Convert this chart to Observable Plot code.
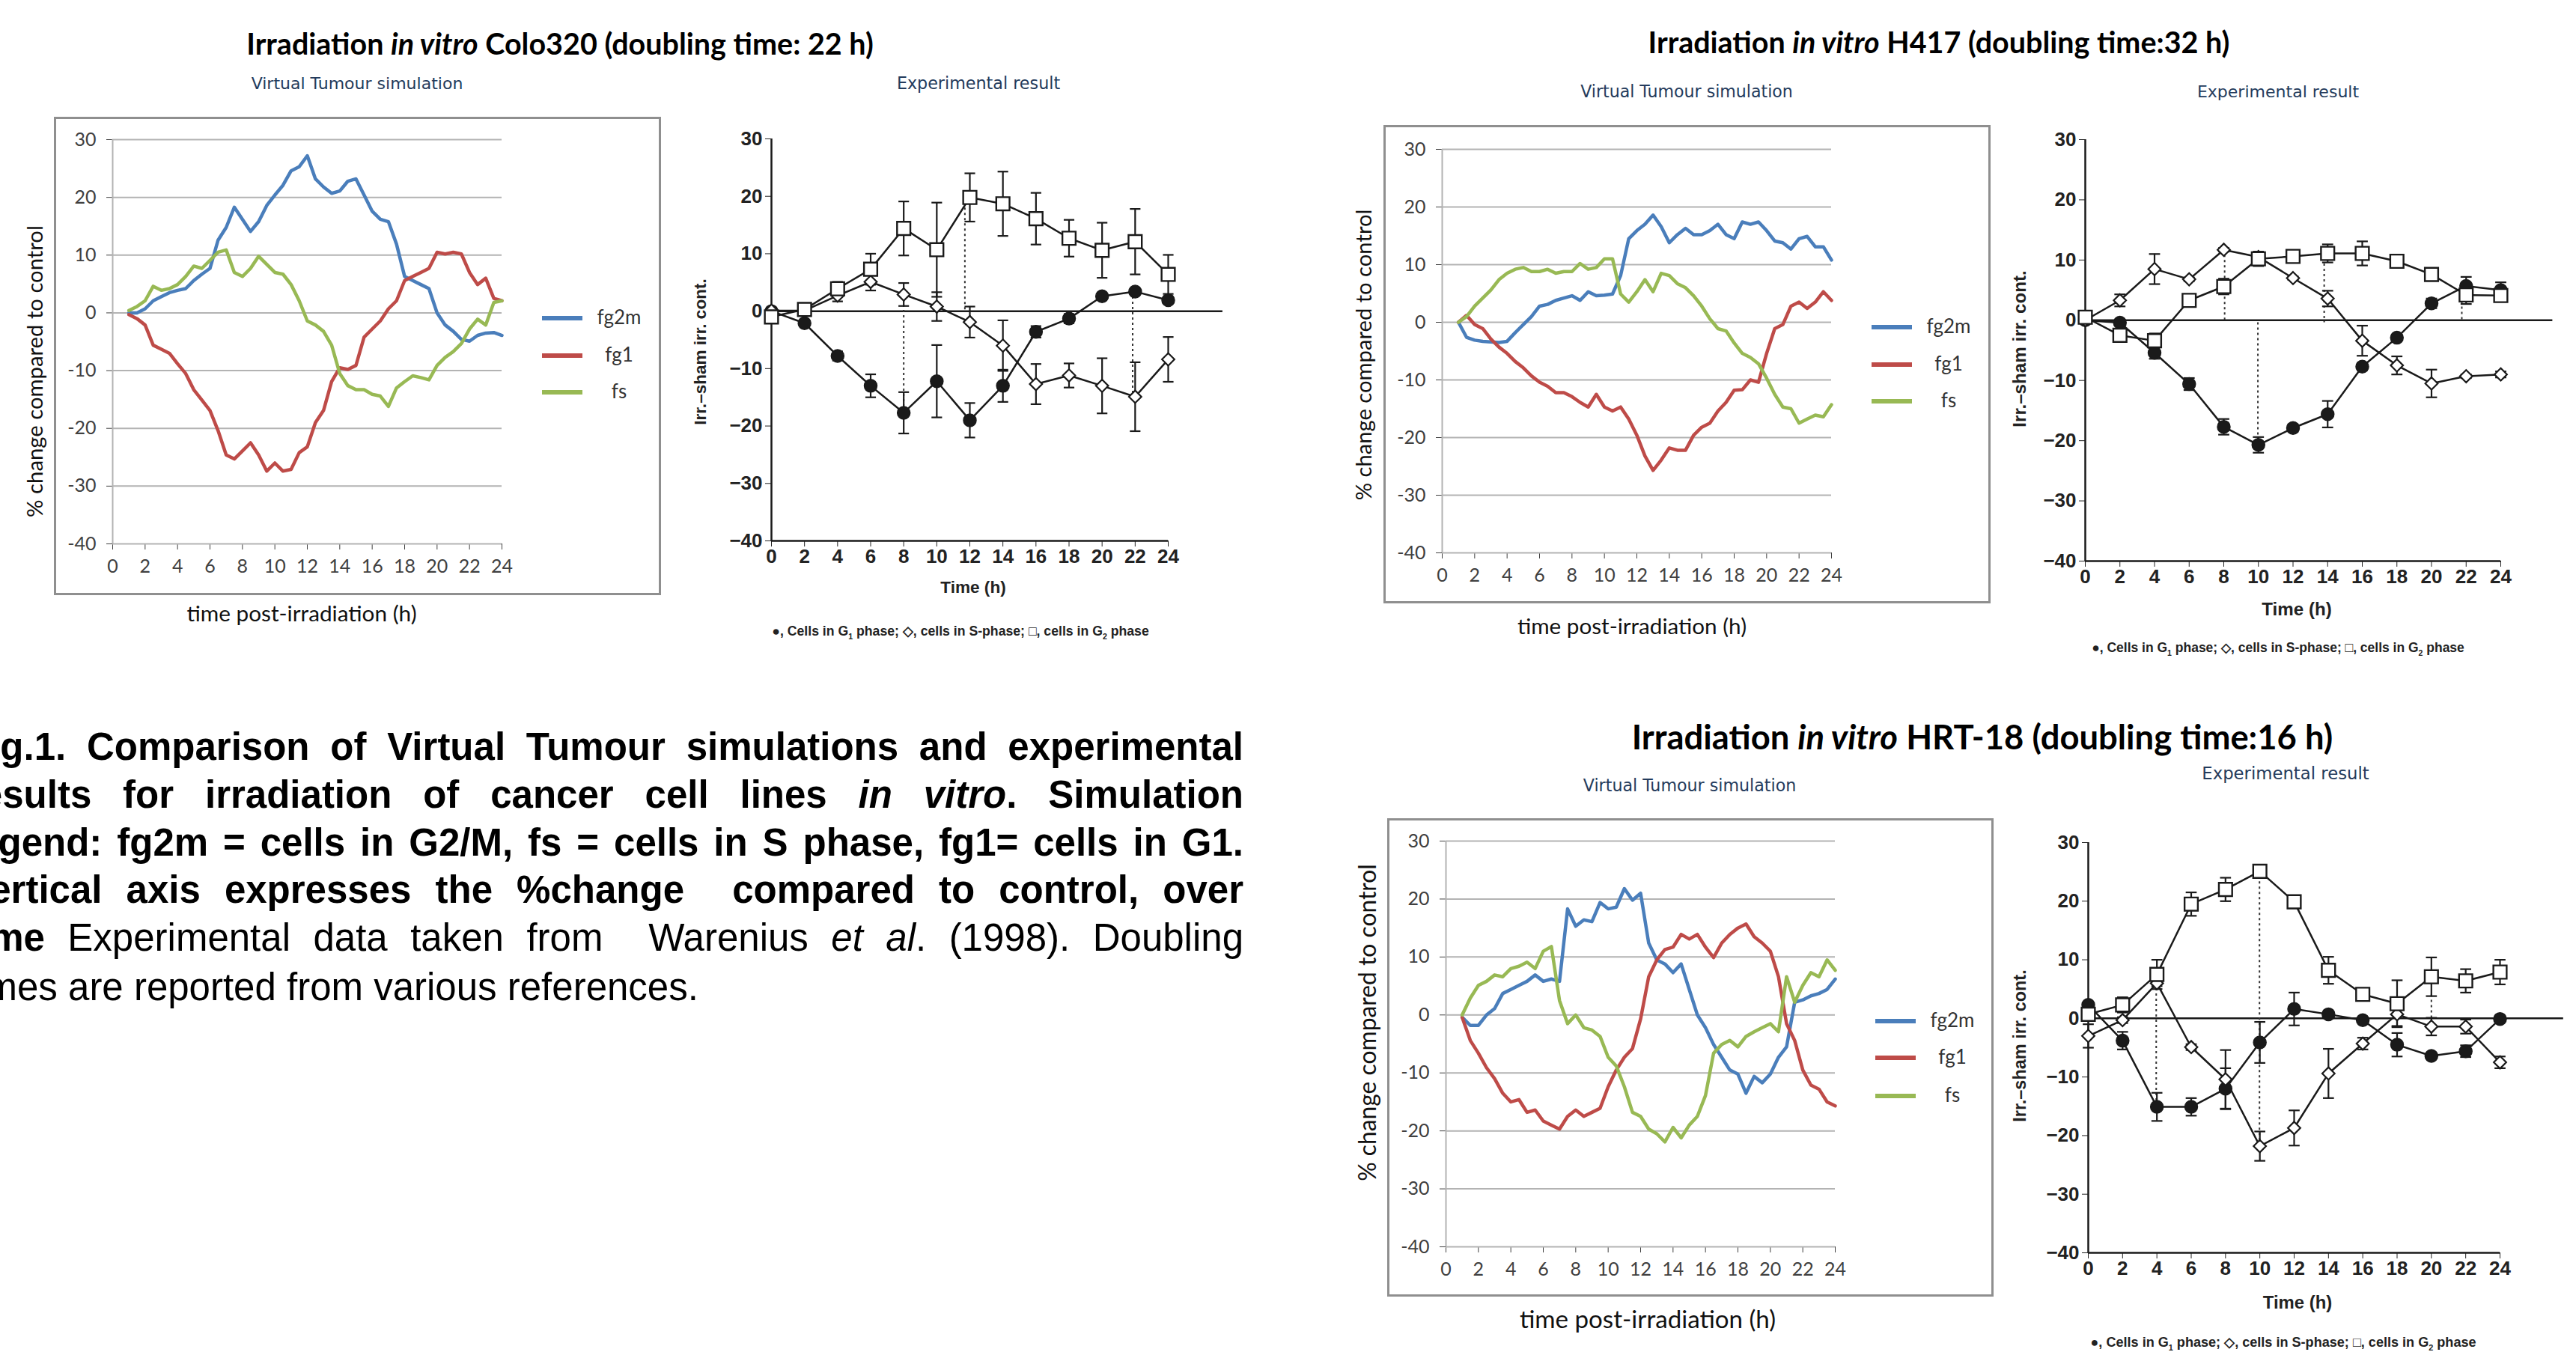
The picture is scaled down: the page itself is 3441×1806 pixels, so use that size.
<!DOCTYPE html>
<html><head><meta charset="utf-8">
<script src="https://cdn.jsdelivr.net/npm/d3@7"></script>
<script src="https://cdn.jsdelivr.net/npm/@observablehq/plot@0.6"></script>
<style>
html,body{margin:0;padding:0;background:#fff;}
#page{position:relative;width:3441px;height:1806px;overflow:hidden;background:#fff;}
.abs{position:absolute;white-space:nowrap;}
.ctr{transform:translate(-50%,-50%);}
.rot{transform:translate(-50%,-50%) rotate(-90deg);}
.title{font-family:Lato,"Open Sans",sans-serif;font-weight:700;font-size:34px;color:#000;}
.sub{font-family:"DejaVu Sans",sans-serif;font-size:20px;color:#243b5c;}
.simlab{font-family:Lato,"Open Sans",sans-serif;font-size:28px;color:#111;}
.leg{font-family:Lato,"Open Sans",sans-serif;font-size:26px;color:#333;}
.explab{font-family:"Liberation Sans",Arial,sans-serif;font-weight:700;font-size:20px;color:#222;}
.expleg{font-family:"Liberation Sans",Arial,sans-serif;font-weight:700;font-size:17px;line-height:1;color:#222;}
.expleg sub{font-size:0.6em;line-height:0;}
.cap{position:absolute;left:-45px;width:1706px;height:64px;line-height:64px;font-family:"Liberation Sans",Arial,sans-serif;font-size:51px;color:#000;white-space:nowrap;text-align:justify;text-align-last:justify;}
.cap.last{text-align:left;text-align-last:left;}
.box{position:absolute;box-sizing:border-box;border:3px solid #8f8f8f;pointer-events:none;}
</style>
</head><body><div id="page"></div>
<script>
// ---------------- data ----------------
const simTime = [1,1.5,2,2.5,3,3.5,4,4.5,5,5.5,6,6.5,7,7.5,8,8.5,9,9.5,10,10.5,11,11.5,12,12.5,13,13.5,14,14.5,15,15.5,16,16.5,17,17.5,18,18.5,19,19.5,20,20.5,21,21.5,22,22.5,23,23.5,24];
const simXTicks = [0,2,4,6,8,10,12,14,16,18,20,22,24];
const simYTicks = [-40,-30,-20,-10,0,10,20,30];
const seriesNames = ["fg2m","fg1","fs"];
const seriesColors = ["#4a7ebb","#be4b48","#98b954"];

// Colo320 simulation
const colo_fg2m = [0,0,0.7,2.1,2.8,3.5,3.9,4.2,5.6,6.7,7.7,12.6,14.8,18.3,16.2,14.1,15.8,18.6,20.4,22.1,24.6,25.3,27.2,23.2,21.8,20.7,21.1,22.8,23.2,20.4,17.6,16.2,15.8,11.9,6.3,5.6,4.9,4.2,0,-2.1,-3.2,-4.6,-4.9,-3.9,-3.5,-3.4,-3.9];
const colo_fg1 = [-0.3,-1,-2.1,-5.6,-6.3,-7.0,-8.8,-10.5,-13.3,-15.1,-16.9,-20.4,-24.6,-25.3,-23.9,-22.5,-24.6,-27.4,-26.0,-27.4,-27.1,-24.2,-23.2,-19.0,-16.9,-11.9,-9.5,-9.8,-9.1,-4.2,-2.8,-1.4,0.7,2.1,5.6,6.3,7.0,7.7,10.5,10.2,10.5,10.2,7.0,4.9,6.0,2.5,2.1];
const colo_fs = [0.4,1.1,2.1,4.6,3.9,4.2,4.9,6.3,8.1,7.7,9.1,10.5,10.9,7.0,6.3,7.7,9.8,8.4,7.0,6.7,4.9,2.1,-1.4,-2.1,-3.2,-5.6,-10.5,-12.6,-13.3,-13.3,-14.1,-14.4,-16.2,-13.0,-11.9,-10.9,-11.2,-11.6,-9.1,-7.7,-6.7,-5.3,-2.8,-1.1,-2.1,1.8,2.1];

// H417 simulation
const h417_fg2m = [0,-2.6,-3.1,-3.3,-3.4,-3.5,-3.3,-1.8,-0.4,1.0,2.8,3.1,3.8,4.2,4.6,3.8,5.3,4.6,4.7,4.9,8.1,14.5,15.9,17.0,18.6,16.6,13.8,15.2,16.3,15.2,15.2,15.9,17.0,15.2,14.5,17.4,17.0,17.4,15.9,14.1,13.8,12.7,14.5,14.9,13.1,13.1,10.8];
const h417_fg1 = [0,1.2,-0.4,-1.1,-2.9,-4.3,-5.4,-6.8,-7.9,-9.3,-10.4,-11.1,-12.2,-12.2,-12.9,-13.9,-14.7,-12.5,-14.7,-15.4,-14.7,-16.8,-19.6,-23.2,-25.7,-23.9,-21.8,-22.2,-22.2,-19.6,-18.2,-17.5,-15.4,-13.9,-11.8,-11.7,-10.0,-10.4,-5.4,-1.1,-0.4,2.8,3.5,2.4,3.5,5.3,3.8];
const h417_fs = [0,1.0,2.8,4.2,5.6,7.4,8.5,9.2,9.5,8.8,8.8,9.2,8.5,8.8,8.8,10.2,9.2,9.5,11.0,11.0,4.9,3.5,5.3,7.4,5.3,8.5,8.1,6.7,6.0,4.6,2.8,0.6,-1.1,-1.5,-3.6,-5.4,-6.1,-7.2,-9.7,-12.5,-14.7,-15.0,-17.5,-16.8,-16.1,-16.4,-14.3];

// HRT-18 simulation
const hrt_fg2m = [-0.4,-1.8,-1.8,0,1.1,3.7,4.4,5.1,5.8,6.9,5.8,6.2,5.8,18.3,15.3,16.4,16.1,19.4,18.3,18.6,21.8,19.8,21.0,12.4,9.5,8.8,7.3,8.8,4.4,0,-2.2,-5.1,-7.3,-9.5,-10.2,-13.5,-10.6,-11.7,-10.2,-7.3,-5.5,2.2,2.6,3.3,3.7,4.4,6.2];
const hrt_fg1 = [-0.4,-4.4,-6.6,-9.1,-11.0,-13.5,-15.0,-14.6,-16.8,-16.4,-18.3,-19.0,-19.7,-17.5,-16.4,-17.5,-16.8,-16.1,-12.4,-9.5,-7.3,-5.8,-0.7,6.6,9.5,11.3,11.7,13.9,13.1,13.9,11.7,9.9,12.4,13.9,15.0,15.7,13.5,12.4,11.0,6.6,-1.5,-4.4,-9.5,-12.1,-12.8,-15.0,-15.7];
const hrt_fs = [0,2.9,5.1,5.8,6.9,6.6,8.0,8.4,9.1,8.0,11.0,11.8,2.5,-1.5,0,-2.2,-2.6,-3.7,-7.3,-8.8,-12.4,-16.8,-17.5,-19.7,-20.5,-21.9,-19.4,-21.2,-19.0,-17.5,-13.9,-6.6,-5.1,-4.4,-5.5,-3.7,-2.9,-2.2,-1.5,-2.9,6.6,2.2,5.1,7.3,6.6,9.5,7.7];

// Experimental results (Warenius et al. 1998)
const expTime = [0,2,4,6,8,10,12,14,16,18,20,22,24];
const expXTicks = [0,2,4,6,8,10,12,14,16,18,20,22,24];
const expYTicks = [-40,-30,-20,-10,0,10,20,30];

const colo_g1 = [0,-2.1,-7.8,-13.0,-17.7,-12.2,-19.0,-13.0,-3.6,-1.3,2.6,3.4,1.9];
const colo_g1_err = [0,0.5,0.8,2,3.6,6.3,3,2.8,1,0.8,0.5,0.5,0.5];
const colo_s = [0.1,0.1,2.7,5.1,2.9,0.8,-1.9,-6.0,-12.7,-11.2,-13.0,-14.9,-8.4];
const colo_s_err = [0.5,0.5,1,1.5,2,2.5,2.7,4.4,3.5,2.1,4.8,6,3.9];
const colo_g2 = [-1.0,0.3,3.9,7.3,14.4,10.7,19.8,18.7,16.1,12.7,10.6,12.1,6.4];
const colo_g2_err = [0.5,0.5,1.2,2.7,4.7,8.2,4.2,5.6,4.5,3.2,4.8,5.7,3.4];
const colo_drop_t = [8,11.7,21.85];
const colo_drop_from = [2.9,19.8,3.4];
const colo_drop_to = [-17.7,0,-14.9];

const h417_g1 = [0,-0.4,-5.4,-10.6,-17.7,-20.7,-17.9,-15.6,-7.7,-2.9,2.8,5.7,5.0];
const h417_g1_err = [0.5,0.5,1,1,1.3,1.3,0.6,2.2,0.6,0.5,0.8,1.5,1.3];
const h417_s = [0,3.3,8.5,6.8,11.7,10.5,7.0,3.6,-3.4,-7.5,-10.5,-9.3,-9.0];
const h417_s_err = [0.5,1,2.5,0.3,0.3,0.5,0.3,1.3,2.5,1.5,2.3,0.3,0.5];
const h417_g2 = [0.5,-2.5,-3.4,3.3,5.6,10.2,10.6,11.1,11.1,9.8,7.6,4.2,4.1];
const h417_g2_err = [0.5,0.5,1.2,0.5,1.3,1.2,0.5,1.5,2,0.8,1,1.5,0.8];
const h417_drop_t = [8.05,9.97,13.8,21.75];
const h417_drop_from = [11.7,-0.4,11.1,5.7];
const h417_drop_to = [-0.4,-20.7,-0.4,-0.4];

const hrt_g1 = [2.3,-3.8,-15.1,-15.1,-12.0,-4.1,1.6,0.7,-0.3,-4.5,-6.4,-5.6,-0.1];
const hrt_g1_err = [0.5,1.5,2.4,1.5,3.5,3.5,2.8,0.3,0.3,2,0.5,1,0.3];
const hrt_s = [-3.0,-0.3,6.0,-4.9,-10.4,-21.8,-18.7,-9.4,-4.3,0.7,-1.4,-1.4,-7.5];
const hrt_s_err = [2,0.5,0.5,0.5,5,2.5,3,4.2,1,2,1.5,1.2,1];
const hrt_g2 = [0.7,2.3,7.5,19.5,22.0,25.1,19.9,8.2,4.1,2.5,7.1,6.4,7.9];
const hrt_g2_err = [0.5,1.3,2.5,2,2,0.5,1,2.3,0.5,4,3.3,2,2.1];
const hrt_drop_t = [3.96,9.98,20];
const hrt_drop_from = [6.0,25.1,4.0];
const hrt_drop_to = [-15.1,-21.8,-0.3];

// ---------------- layout ----------------
const page = document.getElementById("page");
function el(tag, cls, html, css) {
  const e = document.createElement(tag);
  if (cls) e.className = cls;
  if (html != null) e.innerHTML = html;
  Object.assign(e.style, css || {});
  page.appendChild(e);
  return e;
}
function text(html, cls, cx, cy, fitW, rotate) {
  const e = el("div", "abs " + cls + (rotate ? " rot" : " ctr"), html, {left: cx + "px", top: cy + "px"});
  if (fitW) {
    const fs = parseFloat(getComputedStyle(e).fontSize);
    const w = e.offsetWidth;
    if (w > 0) e.style.fontSize = (fs * fitW / w) + "px";
  }
  return e;
}

function simPlot(L, a, b, c) {
  const rows = [];
  [a, b, c].forEach((vals, k) => vals.forEach((v, i) => rows.push({t: simTime[i], v, s: seriesNames[k]})));
  const [bx, by, bw, bh] = L.box;
  const [x0, x24, y30, y40] = L.plot;
  const svg = Plot.plot({
    width: bw, height: bh,
    marginLeft: x0 - bx, marginRight: bx + bw - x24, marginTop: y30 - by, marginBottom: by + bh - y40,
    style: {background: "transparent", fontFamily: "Lato, 'Open Sans', sans-serif", fontSize: "25px", color: "#404040", maxWidth: "none", overflow: "visible"},
    x: {domain: [0, 24], ticks: simXTicks, tickSize: 8, tickPadding: 13, label: null, tickFormat: d => String(d)},
    y: {domain: [-40, 30], ticks: simYTicks, tickSize: 8, tickPadding: 14, label: null, tickFormat: d => String(d)},
    color: {domain: seriesNames, range: seriesColors},
    marks: [
      Plot.ruleY(simYTicks, {stroke: "#b3b3b3", strokeWidth: 2}),
      Plot.ruleX([0], {y1: -40, y2: 30, stroke: "#b3b3b3", strokeWidth: 2}),
      Plot.line(rows, {x: "t", y: "v", z: "s", stroke: "s", strokeWidth: 4.5, strokeLinejoin: "round"})
    ]
  });
  const holder = el("div", "abs", null, {left: bx + "px", top: by + "px", width: bw + "px", height: bh + "px"});
  holder.appendChild(svg);
  el("div", "box", null, {left: bx + "px", top: by + "px", width: bw + "px", height: bh + "px"});
  // legend
  seriesNames.forEach((n, k) => {
    const ly = by + L.legY[k];
    el("div", "abs", null, {left: (bx + 652) + "px", top: (ly - 3) + "px", width: "54px", height: "6px", background: seriesColors[k]});
    text(n, "leg", bx + 755, ly - 2, null, false);
  });
  text("% change compared to control", "simlab", L.ylab[0], L.ylab[1], L.ylab[2], true);
  text("time post-irradiation (h)", "simlab", L.xlab[0], L.xlab[1], L.xlab[2], false);
}

function expPlot(L, g1, g1e, s, se, g2, g2e, dt, df, dtt) {
  const mk = (v, e) => v.map((y, i) => ({t: expTime[i], v: y, e: e[i]}));
  const G1 = mk(g1, g1e), S = mk(s, se), G2 = mk(g2, g2e);
  const drops = dt.map((t, i) => ({t, a: df[i], b: dtt[i]}));
  const [x0, x24, y30, y40] = L.axis;
  const ml = 150, mr = 110, mt = 40, mb = 60;
  const W = (x24 - x0) + ml + mr, H = (y40 - y30) + mt + mb;
  const ink = "#1a1a1a";
  const err = rows => [
    Plot.ruleX(rows, {x: "t", y1: d => d.v - d.e, y2: d => d.v + d.e, stroke: ink, strokeWidth: 2.2}),
    Plot.link(rows, {x1: d => d.t - 0.32, x2: d => d.t + 0.32, y1: d => d.v + d.e, y2: d => d.v + d.e, stroke: ink, strokeWidth: 2.2}),
    Plot.link(rows, {x1: d => d.t - 0.32, x2: d => d.t + 0.32, y1: d => d.v - d.e, y2: d => d.v - d.e, stroke: ink, strokeWidth: 2.2})
  ];
  const svg = Plot.plot({
    width: W, height: H, marginLeft: ml, marginRight: mr, marginTop: mt, marginBottom: mb,
    style: {background: "transparent", fontFamily: "'Liberation Sans', Arial, sans-serif", fontSize: "26px", fontWeight: "bold", color: "#222", maxWidth: "none", overflow: "visible"},
    x: {domain: [0, 24], ticks: expXTicks, tickSize: 8, tickPadding: 3, label: null},
    y: {domain: [-40, 30], ticks: expYTicks, tickSize: 8, tickPadding: 4, label: null},
    marks: [
      Plot.ruleY([0], {x1: 0, x2: L.zeroEnd, stroke: ink, strokeWidth: 2.5}),
      Plot.ruleX([0], {y1: -40, y2: 30, stroke: ink, strokeWidth: 2.5}),
      Plot.ruleY([-40], {x1: 0, x2: 24, stroke: ink, strokeWidth: 2.5}),
      Plot.ruleX(drops, {x: "t", y1: "a", y2: "b", stroke: "#333", strokeWidth: 2, strokeDasharray: "3,4"}),
      Plot.line(G1, {x: "t", y: "v", stroke: ink, strokeWidth: 2.5}),
      Plot.line(S, {x: "t", y: "v", stroke: ink, strokeWidth: 2.5}),
      Plot.line(G2, {x: "t", y: "v", stroke: ink, strokeWidth: 2.5}),
      ...err(G1), ...err(S), ...err(G2),
      Plot.dot(G1, {x: "t", y: "v", r: 8.5, fill: ink, stroke: ink}),
      Plot.dot(S, {x: "t", y: "v", symbol: "diamond2", r: 7.5, fill: "white", stroke: ink, strokeWidth: 2.2}),
      Plot.dot(G2, {x: "t", y: "v", symbol: "square", r: 10, fill: "white", stroke: ink, strokeWidth: 2.4})
    ]
  });
  const holder = el("div", "abs", null, {left: (x0 - ml) + "px", top: (y30 - mt) + "px", width: W + "px", height: H + "px"});
  holder.appendChild(svg);
  text("Irr.\u2013sham irr. cont.", "explab", L.ylab[0], L.ylab[1], L.ylab[2], true);
  text("Time (h)", "explab", L.xlab[0], L.xlab[1], L.xlab[2], false);
  text("\u25CF, Cells in G<sub>1</sub> phase; \u25C7, cells in S-phase; \u25A1, cells in G<sub>2</sub> phase", "expleg", L.leg[0], L.leg[1], L.leg[2], false);
}

// titles
text("Irradiation <i>in vitro</i> Colo320 (doubling time: 22 h)", "title", 748, 57, 838);
text("Irradiation <i>in vitro</i> H417 (doubling time:32 h)", "title", 2590, 55, 777);
text("Irradiation <i>in vitro</i> HRT-18 (doubling time:16 h)", "title", 2648, 983, 937);
text("Virtual Tumour simulation", "sub", 477, 111, 283);
text("Virtual Tumour simulation", "sub", 2253, 122, 284);
text("Virtual Tumour simulation", "sub", 2257, 1049, 285);
text("Experimental result", "sub", 1307, 111, 218);
text("Experimental result", "sub", 3043, 122, 216);
text("Experimental result", "sub", 3053, 1033, 223);

simPlot({box: [72, 156, 811, 639], plot: [150, 670, 186, 726], legY: [269, 319, 368], ylab: [45, 496, 390], xlab: [403, 818, 307]}, colo_fg2m, colo_fg1, colo_fs);
simPlot({box: [1848, 167, 811, 639], plot: [1926, 2446, 199, 738], legY: [270, 320, 369], ylab: [1820, 474, 389], xlab: [2180, 835, 306]}, h417_fg2m, h417_fg1, h417_fs);
simPlot({box: [1853, 1093, 810, 639], plot: [1931, 2451, 1123, 1665], legY: [271, 320, 371], ylab: [1826, 1366, 424], xlab: [2201, 1761, 342]}, hrt_fg2m, hrt_fg1, hrt_fs);

expPlot({axis: [1030, 1560, 185, 722], zeroEnd: 27.3, ylab: [936, 470, 195], xlab: [1300, 785, 87], leg: [1283, 844, 503]},
  colo_g1, colo_g1_err, colo_s, colo_s_err, colo_g2, colo_g2_err, colo_drop_t, colo_drop_from, colo_drop_to);
expPlot({axis: [2785, 3340, 186, 749], zeroEnd: 27.0, ylab: [2698, 466, 209], xlab: [3068, 814, 93], leg: [3043, 866, 498]},
  h417_g1, h417_g1_err, h417_s, h417_s_err, h417_g2, h417_g2_err, h417_drop_t, h417_drop_from, h417_drop_to);
expPlot({axis: [2789, 3339, 1125, 1673], zeroEnd: 27.7, ylab: [2698, 1397, 203], xlab: [3069, 1740, 92], leg: [3050, 1793, 515]},
  hrt_g1, hrt_g1_err, hrt_s, hrt_s_err, hrt_g2, hrt_g2_err, hrt_drop_t, hrt_drop_from, hrt_drop_to);

// caption
const capLines = [
  "<b>Fig.1. Comparison of Virtual Tumour simulations and experimental</b>",
  "<b>results for irradiation of cancer cell lines <i>in vitro</i>. Simulation</b>",
  "<b>legend: fg2m = cells in G2/M, fs = cells in S phase, fg1= cells in G1.</b>",
  "<b>Vertical axis expresses the %change &nbsp;compared to control, over</b>",
  "<b>time</b> Experimental data taken from &nbsp;Warenius <i>et al</i>. (1998). Doubling",
  "times are reported from various references."
];
const capY = [998, 1062, 1126, 1189, 1253, 1319];
capLines.forEach((h, i) => el("div", "cap" + (i === capLines.length - 1 ? " last" : ""), h, {top: (capY[i] - 32) + "px"}));
</script>
</body></html>
